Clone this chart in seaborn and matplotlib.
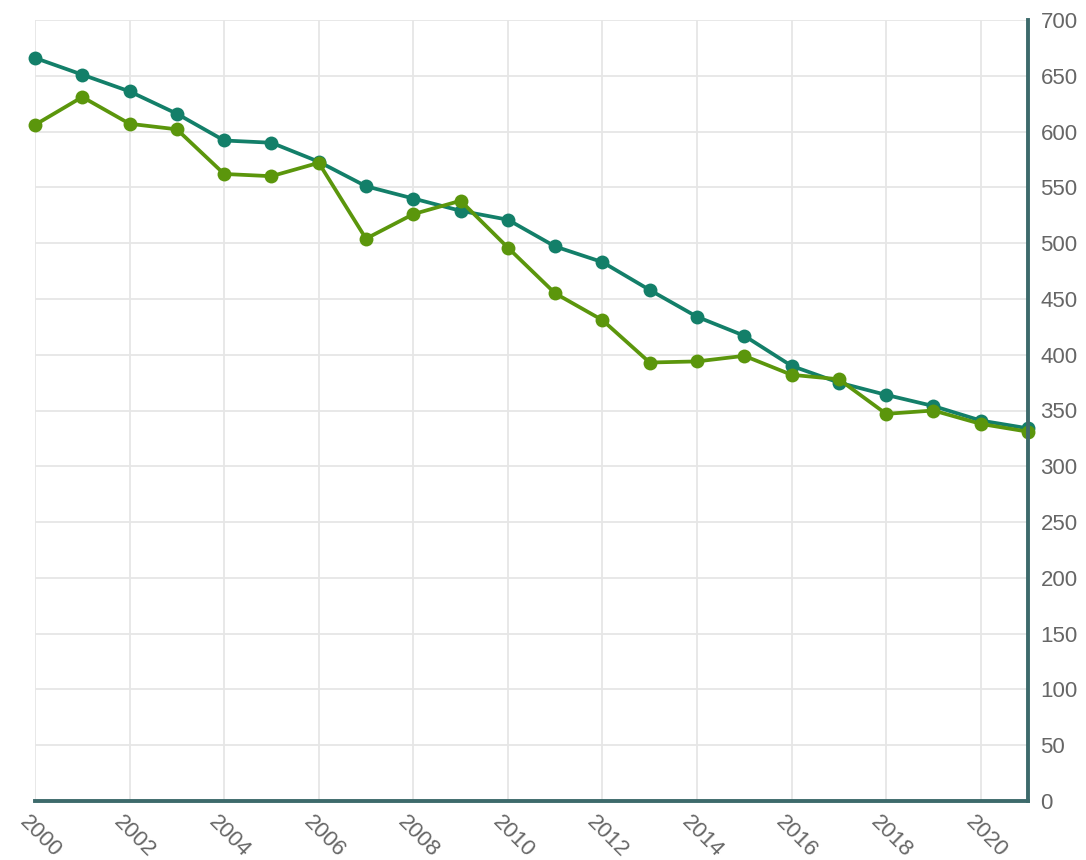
import matplotlib
matplotlib.use("Agg")
import matplotlib.pyplot as plt
import matplotlib.transforms as mtransforms
import seaborn as sns
import pandas as pd

years = list(range(2000, 2022))
series_a = [666, 651, 636, 616, 592, 590, 573, 551, 540, 529, 521, 497, 483, 458, 434, 417, 390, 375, 364, 354, 341, 334]
series_b = [606, 631, 607, 602, 562, 560, 572, 504, 526, 538, 496, 455, 431, 393, 394, 399, 382, 378, 347, 350, 338, 331]
x_ticks = list(range(2000, 2022, 2))
y_ticks = list(range(0, 701, 50))

sns.set_theme(style="white")
plt.rcParams['font.family'] = ['Liberation Sans', 'DejaVu Sans']

df = pd.DataFrame({
    "year": years * 2,
    "value": series_a + series_b,
    "series": ["A"] * len(years) + ["B"] * len(years),
})

fig = plt.figure(figsize=(10.86, 8.6), dpi=100)
ax = fig.add_axes([35 / 1086, 59 / 860, (1028 - 35) / 1086, (801 - 20) / 860])

palette = {"A": "#137f69", "B": "#5b960c"}
sns.lineplot(data=df, x="year", y="value", hue="series", palette=palette,
             marker="o", markersize=10, markeredgewidth=0, linewidth=2.7,
             legend=False, ax=ax, zorder=3, clip_on=False)

ax.set_xlim(2000, 2021)
ax.set_ylim(0, 700)
ax.set_xticks(x_ticks)
ax.set_yticks(y_ticks)
ax.set_xlabel("")
ax.set_ylabel("")

ax.grid(True, color="#e6e6e6", linewidth=1.3, zorder=0)
ax.set_axisbelow(True)

for s in ["top", "left"]:
    ax.spines[s].set_visible(False)
for s in ["bottom", "right"]:
    ax.spines[s].set_color("#3d6a6b")
    ax.spines[s].set_linewidth(2.8)
    ax.spines[s].set_zorder(4)

ax.yaxis.tick_right()
ax.tick_params(axis="both", length=0, colors="#666666", labelsize=16)
ax.tick_params(axis="y", pad=9)
ax.tick_params(axis="x", pad=8)
offset = mtransforms.ScaledTranslation(-5 / 100, 0, fig.dpi_scale_trans)
for lbl in ax.get_xticklabels():
    lbl.set_rotation(-45)
    lbl.set_ha("left")
    lbl.set_va("top")
    lbl.set_rotation_mode("anchor")
    lbl.set_transform(lbl.get_transform() + offset)

fig.savefig("out.png", dpi=100)
